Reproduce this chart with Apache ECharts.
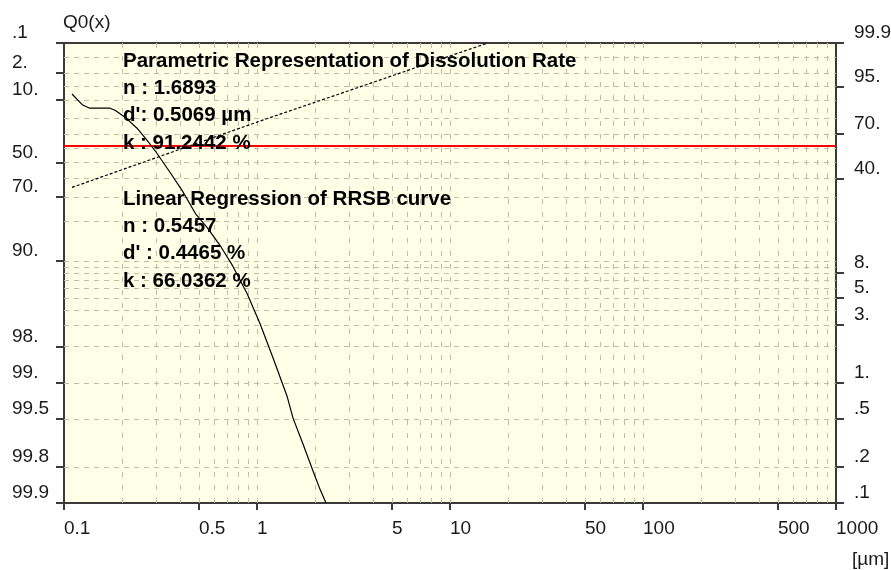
<!DOCTYPE html>
<html><head><meta charset="utf-8">
<script src="https://cdn.jsdelivr.net/npm/echarts@6/dist/echarts.min.js"></script>
<style>html,body{margin:0;padding:0;background:#fff}#c{width:891px;height:570px}</style>
</head><body><div id="c"></div>
<script>
// ---- data ----
const sizeUm = [0.110,0.125,0.136,0.173,0.184,0.207,0.239,0.269,0.303,0.354,0.409,0.483,0.551,0.643,0.751,0.888,1.036,1.21,1.43,1.537,1.731,1.951,2.121,2.278];
const cumQ   = [7.5,12.3,13.9,13.9,15.0,19.0,26.1,34.4,43.6,56.2,66.6,77.4,81.9,86.8,91.0,94.55,96.9,98.38,99.22,99.49,99.69,99.815,99.87,99.9];
const fitSizeUm = [0.110, 1.0, 15.7];
const fitQ      = [65.0, 22.1, 0.1];
const redLevelQ = 38.5;

const xTickValues = [0.1,0.5,1,5,10,50,100,500,1000];
const xTickLabels = ['0.1','0.5','1','5','10','50','100','500','1000'];
const leftTickQ = [0.1,2,10,50,70,90,98,99,99.5,99.8,99.9];
const leftTickLabels = ['.1','2.','10.','50.','70.','90.','98.','99.','99.5','99.8','99.9'];
const rightTickR = [99.9,95,70,40,8,5,3,1,0.5,0.2,0.1];
const rightTickLabels = ['99.9','95.','70.','40.','8.','5.','3.','1.','.5','.2','.1'];
const gridQ = [0.5,2,5,10,20,30,40,50,60,70,80,90,91,92,93,94,95,96,97,98,99,99.5,99.8];
const gridX = [0.2,0.3,0.4,0.5,0.6,0.7,0.8,0.9,1,2,3,4,5,6,7,8,9,10,20,30,40,50,60,70,80,90,100,200,300,400,500,600,700,800,900];

const paramTitle = 'Parametric Representation of Dissolution Rate';
const paramLines = ['n : 1.6893', "d': 0.5069 \u00b5m", 'k : 91.2442 %'];
const regTitle = 'Linear Regression of RRSB curve';
const regLines = ['n : 0.5457', "d' : 0.4465 %", 'k : 66.0362 %'];

// ---- RRSB-type probability transform ----
const T = q => Math.log10(-Math.log(q / 100));
const yMin = T(99.9) - 1e-9, yMax = T(0.1) + 1e-9;
const leftTickT = leftTickQ.map(T);
const rightTickT = rightTickR.map(r => T(+(100 - r).toFixed(4)));
function nearest(vals, labels, v) {
  let bi = 0, bd = Infinity;
  vals.forEach((x, i) => { const d = Math.abs(x - v); if (d < bd) { bd = d; bi = i; } });
  return labels[bi];
}
const tickFont = '"Liberation Sans", Arial, sans-serif';
const annFont = 'bold 20.5px "Liberation Sans", Arial, sans-serif';
const axisCol = '#3a3a3a';
const gridCol = '#BEBEA6';
const labCol = '#1a1a1a';

const gridMarks = gridX.map(v => ({ xAxis: v, lineStyle: { type: [5, 8] } }))
  .concat(gridQ.map(q => ({ yAxis: T(q), lineStyle: { type: [5, 5] } })));

const graphics = [];
[paramTitle].concat(paramLines).forEach((t, i) => graphics.push({
  type: 'text', x: 123, y: 61 + i * 27.4, z: 100,
  style: { text: t, font: annFont, fill: '#000', verticalAlign: 'middle' }
}));
[regTitle].concat(regLines).forEach((t, i) => graphics.push({
  type: 'text', x: 123, y: 199 + i * 27.4, z: 100,
  style: { text: t, font: annFont, fill: '#000', verticalAlign: 'middle' }
}));
graphics.push({ type: 'text', x: 63, y: 23, z: 100,
  style: { text: 'Q0(x)', font: '19px ' + tickFont, fill: labCol, verticalAlign: 'middle' } });
graphics.push({ type: 'text', x: 852, y: 560, z: 100,
  style: { text: '[\u00b5m]', font: '19px ' + tickFont, fill: labCol, verticalAlign: 'middle' } });

const chart = echarts.init(document.getElementById('c'), null, { renderer: 'canvas' });
chart.setOption({
  animation: false,
  backgroundColor: '#ffffff',
  grid: { left: 64, right: 55, top: 43, bottom: 67, show: true, backgroundColor: '#FFFFE8',
          borderColor: axisCol, borderWidth: 2, containLabel: false, outerBoundsMode: 'none' },
  xAxis: [{
    type: 'log', logBase: 10, min: 0.1, max: 1000, position: 'bottom',
    axisLine: { show: true, onZero: false, lineStyle: { color: axisCol, width: 2 } },
    axisTick: { show: true, customValues: xTickValues, length: 7, lineStyle: { color: axisCol, width: 2 } },
    axisLabel: { customValues: xTickValues, formatter: v => nearest(xTickValues.map(Math.log10), xTickLabels, Math.log10(v)),
      align: 'left', margin: 16, fontFamily: tickFont, fontSize: 19, color: labCol },
    splitLine: { show: false }, minorTick: { show: false }, minorSplitLine: { show: false }
  }],
  yAxis: [{
    type: 'value', min: yMin, max: yMax, position: 'left',
    axisLine: { show: true, onZero: false, lineStyle: { color: axisCol, width: 2 } },
    axisTick: { show: true, customValues: leftTickT, length: 8, lineStyle: { color: axisCol, width: 2 } },
    axisLabel: { customValues: leftTickT, formatter: v => nearest(leftTickT, leftTickLabels, v),
      align: 'left', verticalAlign: 'bottom', lineHeight: 20, margin: 52, fontFamily: tickFont, fontSize: 19, color: labCol },
    splitLine: { show: false }
  }, {
    type: 'value', min: yMin, max: yMax, position: 'right',
    axisLine: { show: true, onZero: false, lineStyle: { color: axisCol, width: 2 } },
    axisTick: { show: true, customValues: rightTickT, length: 8, lineStyle: { color: axisCol, width: 2 } },
    axisLabel: { customValues: rightTickT, formatter: v => nearest(rightTickT, rightTickLabels, v),
      align: 'left', verticalAlign: 'bottom', lineHeight: 20, margin: 18, fontFamily: tickFont, fontSize: 19, color: labCol },
    splitLine: { show: false }
  }],
  series: [{
    type: 'line', data: [], z: 1, silent: true,
    markLine: { silent: true, symbol: ['none', 'none'], label: { show: false }, animation: false,
      lineStyle: { color: gridCol, width: 1 }, emphasis: { disabled: true }, data: gridMarks }
  }, {
    type: 'line', data: [], z: 3, silent: true,
    markLine: { silent: true, symbol: ['none', 'none'], label: { show: false }, animation: false,
      lineStyle: { color: '#FF0000', width: 2, type: 'solid' }, emphasis: { disabled: true },
      data: [{ yAxis: T(redLevelQ) }] }
  }, {
    type: 'line', z: 5, showSymbol: false, silent: true,
    data: sizeUm.map((x, i) => [x, T(cumQ[i])]),
    lineStyle: { color: '#000', width: 1.2 }
  }, {
    type: 'line', z: 5, showSymbol: false, silent: true,
    data: fitSizeUm.map((x, i) => [x, T(fitQ[i])]),
    lineStyle: { color: '#000', width: 1.2, type: [3, 2] }
  }],
  graphic: graphics
});
</script></body></html>
